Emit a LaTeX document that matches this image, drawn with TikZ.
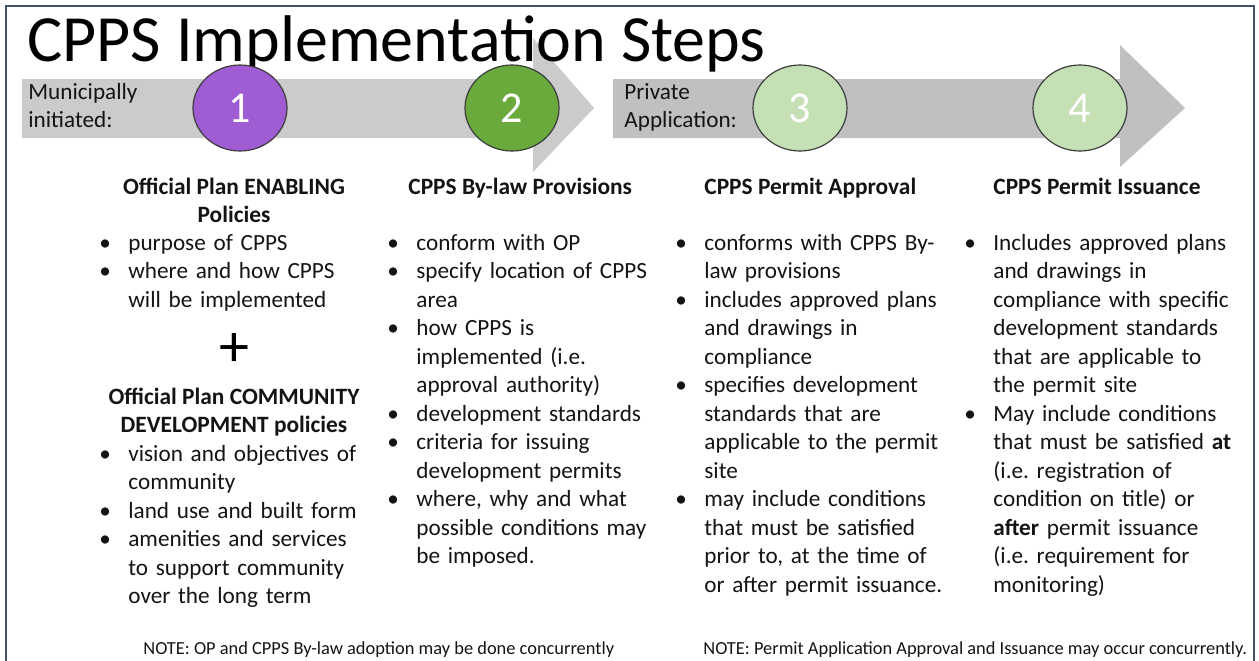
\documentclass[tikz,border=0pt]{standalone}
\usepackage{fontspec}
\setmainfont{Carlito}
\usetikzlibrary{positioning,shapes.geometric}

\definecolor{framec}{RGB}{62,82,104}
\definecolor{arrowa}{RGB}{203,203,203}
\definecolor{arrowb}{RGB}{192,192,192}
\definecolor{stepa}{RGB}{160,92,210}
\definecolor{stepb}{RGB}{106,170,60}
\definecolor{stepc}{RGB}{197,224,180}
\definecolor{edgec}{RGB}{60,60,60}
\definecolor{inkc}{RGB}{20,20,20}

% one bullet point with a hanging indent
\newcommand{\blt}[1]{\noindent\hangindent=14.5pt\hangafter=1%
  \makebox[14.5pt][l]{\textbullet}#1\par}

\newcommand{\bigarrow}[6]{
  \fill[#1] (#2,79) -- (#3,79) -- (#3,#4) -- (#6,108) -- (#3,#5) -- (#3,138) -- (#2,138) -- cycle;
}

\tikzset{
  stepdot/.style={ellipse,draw=edgec,line width=0.6pt,minimum width=47pt,
    minimum height=43pt,inner sep=0pt,text=white,font=\fontsize{22}{26}\selectfont},
  listtext/.style={anchor=base west,inner sep=0pt,text width=160pt,align=left,
    text=inkc,font=\fontsize{11.6}{14.25}\selectfont\frenchspacing},
  headtext/.style={anchor=base,inner sep=0pt,text=inkc,
    font=\fontsize{11.7}{14.25}\selectfont\bfseries},
  notetext/.style={anchor=base west,inner sep=0pt,text=inkc,
    font=\fontsize{9.2}{11}\selectfont},
}

\begin{document}
\begin{tikzpicture}[x=0.5pt,y=-0.5pt]
    \useasboundingbox (0,0) rectangle (1259,660);
    \fill[white] (0,0) rectangle (1259,660);
    \draw[framec,line width=1pt] (6,700) -- (6,6) -- (1254,6) -- (1254,700);

    % the two process arrows
    \bigarrow{arrowa}{22}{533}{38}{172}{594}
    \bigarrow{arrowb}{613}{1120}{45}{167}{1185}

    \node[anchor=base west,inner sep=0pt,font=\fontsize{33}{36}\selectfont]
      (title) at (27,61) {CPPS Implementation Steps};

    \node[listtext,text width=90pt] (muni) at (28,99) {Municipally\\initiated:};
    \node[listtext,text width=90pt] (priv) at (624,99) {Private\\Application:};

    \node[stepdot,fill=stepa] (s1) at (240,108) {1};
    \node[stepdot,fill=stepb] (s2) at (512,108) {2};
    \node[stepdot,fill=stepc] (s3) at (800,108) {3};
    \node[stepdot,fill=stepc] (s4) at (1080,108) {4};

    % step 1
    \node[headtext] (h1a) at (234,194) {Official Plan ENABLING};
    \node[headtext] (h1b) at (234,222.5) {Policies};
    \node[listtext] (l1a) at (99,250) {\blt{purpose of CPPS}
      \blt{where and how CPPS\newline will be implemented}};
    \node[anchor=center,inner sep=0pt,font=\fontsize{30}{30}\selectfont]
      (plus) at (234,350) {+};
    \node[headtext] (h1c) at (234,404) {Official Plan COMMUNITY};
    \node[headtext] (h1d) at (234,432.5) {DEVELOPMENT policies};
    \node[listtext] (l1b) at (99,461) {\blt{vision and objectives of\newline community}
      \blt{land use and built form}
      \blt{amenities and services\newline to support community\newline over the long term}};

    % step 2
    \node[headtext,anchor=base west] (h2) at (408,194) {CPPS By-law Provisions};
    \node[listtext] (l2) at (387,250) {\blt{conform with OP}
      \blt{specify location of CPPS\newline area}
      \blt{how CPPS is\newline implemented (i.e.\newline approval authority)}
      \blt{development standards}
      \blt{criteria for issuing\newline development permits}
      \blt{where, why and what\newline possible conditions may\newline be imposed.}};

    % step 3
    \node[headtext,anchor=base west] (h3) at (704,194) {CPPS Permit Approval};
    \node[listtext] (l3) at (675,250) {\blt{conforms with CPPS By-\newline law provisions}
      \blt{includes approved plans\newline and drawings in\newline compliance}
      \blt{specifies development\newline standards that are\newline applicable to the permit\newline site}
      \blt{may include conditions\newline that must be satisfied\newline prior to, at the time of\newline or after permit issuance.}};

    % step 4
    \node[headtext,anchor=base west] (h4) at (993,194) {CPPS Permit Issuance};
    \node[listtext] (l4) at (964,250) {\blt{Includes approved plans\newline and drawings in\newline compliance with specific\newline development standards\newline that are applicable to\newline the permit site}
      \blt{May include conditions\newline that must be satisfied \textbf{at}\newline (i.e. registration of\newline condition on title) or\newline \textbf{after} permit issuance\newline (i.e. requirement for\newline monitoring)}};

    \node[notetext] (n1) at (143,654) {NOTE: OP and CPPS By-law adoption may be done concurrently};
    \node[notetext] (n2) at (703,654) {NOTE: Permit Application Approval and Issuance may occur concurrently.};
\end{tikzpicture}
\end{document}
